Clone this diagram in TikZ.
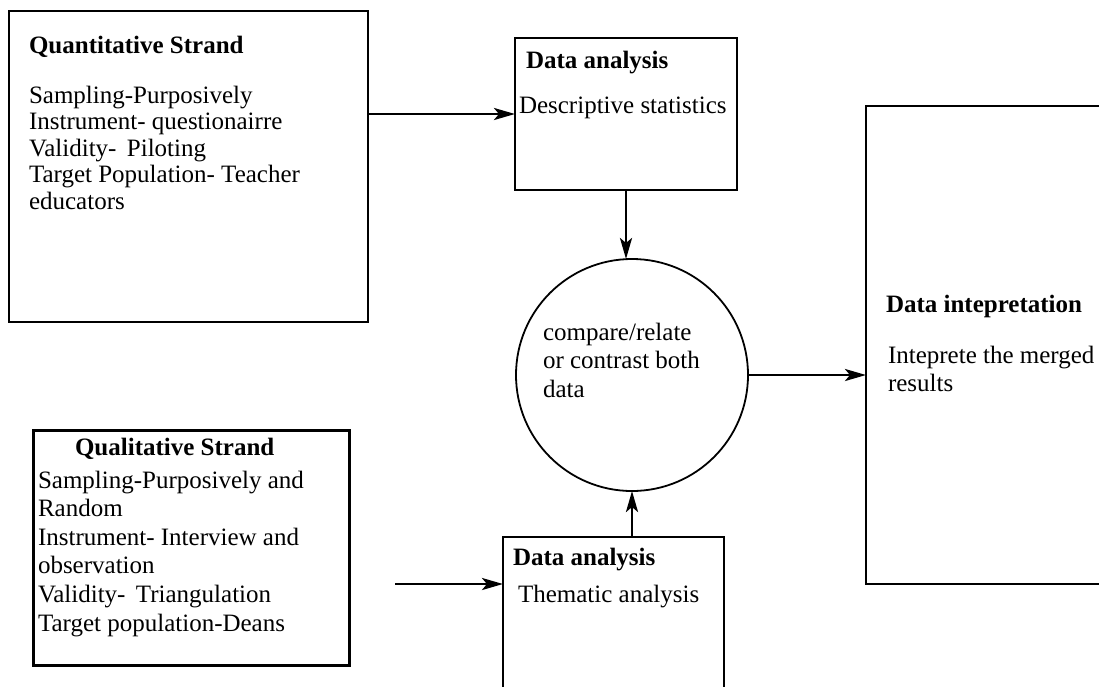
\documentclass[tikz,border=0pt]{standalone}
\usepackage{fontspec}
\setmainfont{Liberation Serif}
\usetikzlibrary{arrows.meta}
\begin{document}
\begin{tikzpicture}[x=1pt,y=-1pt,
  box/.style={draw=black, line width=1.8pt, inner sep=0pt, outer sep=0pt},
  thickbox/.style={box, line width=3pt},
  arr/.style={line width=2.8pt, -{Stealth[length=21pt,width=12pt,inset=5pt]}},
  txt/.style={anchor=base west, inner sep=0pt, outer sep=0pt, font=\fontsize{25}{30}\selectfont},
  ttl/.style={txt, font=\fontsize{25}{30}\selectfont\bfseries}]
\useasboundingbox (0,0) rectangle (1099,686);
\fill[white] (0,0) rectangle (1099,686);
\clip (0,0) rectangle (1099,686);

% boxes
\node[box, minimum width=359pt, minimum height=311pt] (quant) at (188.5,166.5) {};
\node[box, minimum width=222pt, minimum height=152pt] (da1) at (626,114) {};
\node[box, circle, minimum size=232pt] (circ) at (632,375) {};
\node[box, minimum width=274pt, minimum height=478pt] (di) at (1003,345) {};
\node[thickbox, minimum width=316pt, minimum height=235pt] (qual) at (191,547.5) {};
\node[box, minimum width=221pt, minimum height=203pt] (da2) at (613.5,638.5) {};

% quantitative strand text
\node[ttl] (qt) at (29,53) {Quantitative Strand};
\node[txt] (q1) at (29,103) {Sampling-Purposively};
\node[txt] (q2) at (29,129.5) {Instrument- questionairre};
\node[txt] (q3) at (29,156) {Validity-\, Piloting};
\node[txt] (q4) at (29,182.5) {Target Population- Teacher};
\node[txt] (q5) at (29,209) {educators};

% data analysis 1
\node[ttl] (d1t) at (526,68) {Data analysis};
\node[txt] (d1a) at (519,113) {Descriptive statistics};

% circle text
\node[txt] (c1) at (543,340) {compare/relate};
\node[txt] (c2) at (543,368.5) {or contrast both};
\node[txt] (c3) at (543,397) {data};

% data interpretation
\node[ttl] (dit) at (886,312) {Data intepretation};
\node[txt] (di1) at (888,363) {Inteprete the merged};
\node[txt] (di2) at (888,391) {results};

% qualitative strand
\node[ttl] (qlt) at (75,455) {Qualitative Strand};
\node[txt] (l1) at (38,488) {Sampling-Purposively and};
\node[txt] (l2) at (38,516.6) {Random};
\node[txt] (l3) at (38,545.2) {Instrument- Interview and};
\node[txt] (l4) at (38,573.8) {observation};
\node[txt] (l5) at (38,602.4) {Validity-\, Triangulation};
\node[txt] (l6) at (38,631) {Target population-Deans};

% data analysis 2
\node[ttl] (d2t) at (513,565) {Data analysis};
\node[txt] (d2a) at (518,602) {Thematic analysis};

% connectors
\draw[arr] (quant.east |- da1.west) -- (da1.west);
\draw[arr] (da1.south) -- (da1.south |- circ.north);
\draw[arr] (circ.east) -- (di.west |- circ.east);
\draw[arr] (circ.south |- da2.north) -- (circ.south);
\coordinate (qin) at (395,584);
\draw[arr] (qin) -- (qin -| da2.west);
\end{tikzpicture}
\end{document}
